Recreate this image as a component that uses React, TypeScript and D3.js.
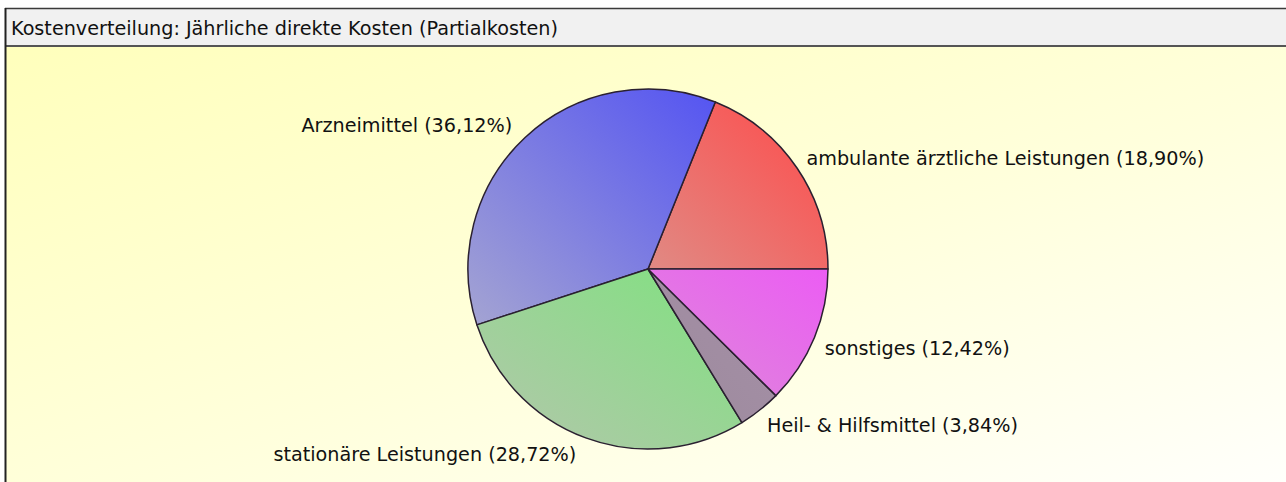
import React from "react";
import * as d3 from "d3";

// slice data, counter-clockwise from 3 o'clock
const categories = [
  "ambulante ärztliche Leistungen",
  "Arzneimittel",
  "stationäre Leistungen",
  "Heil- & Hilfsmittel",
  "sonstiges",
];
const shares = [18.9, 36.12, 28.72, 3.84, 12.42];
const strongColors = ["#ff4a4a", "#5454f2", "#7fe27f", "#a690a8", "#ec5cf4"];
const paleColors = ["#e08a84", "#a4a4d2", "#b4c6ac", "#9c8a9c", "#dc8ad8"];

const title = "Kostenverteilung: Jährliche direkte Kosten (Partialkosten)";

const W = 1286;
const H = 482;
const FONT = "'DejaVu Sans', Verdana, sans-serif";

export default function App() {
  const cx = 648;
  const cy = 269;
  const r = 180;
  const labelR = r + 10;
  const fontSize = 19.2;

  const pie = d3
    .pie<number>()
    .sort(null)
    .startAngle(Math.PI / 2)
    .endAngle(Math.PI / 2 - 2 * Math.PI);
  const arcs = pie(shares);
  const arc = d3.arc<d3.PieArcDatum<number>>().innerRadius(0).outerRadius(r);

  const fmt = (v: number) => v.toFixed(2).replace(".", ",") + "%";

  return (
    <svg
      width={W}
      height={H}
      style={{ position: "absolute", left: 0, top: 0, display: "block" }}
      fontFamily={FONT}
    >
      <defs>
        <linearGradient id="bg" x1="0" y1="0" x2="1" y2="1">
          <stop offset="0%" stopColor="#ffffbc" />
          <stop offset="55%" stopColor="#ffffdc" />
          <stop offset="100%" stopColor="#fffffb" />
        </linearGradient>
        {arcs.map((d, i) => (
          <linearGradient key={i} id={`sl${i}`} x1="1" y1="0" x2="0" y2="1">
            <stop offset="0%" stopColor={strongColors[i]} />
            <stop offset="100%" stopColor={paleColors[i]} />
          </linearGradient>
        ))}
      </defs>

      <rect x={0} y={0} width={W} height={H} fill="#ffffff" />
      {/* plot area */}
      <rect x={6} y={46} width={W - 6} height={H - 46} fill="url(#bg)" />
      {/* title bar */}
      <rect x={6} y={9} width={W - 6} height={37} fill="#f1f1f1" />
      <line x1={5} x2={W} y1={8.5} y2={8.5} stroke="#3a3a3a" strokeWidth={1.5} />
      <line x1={5} x2={W} y1={46} y2={46} stroke="#555" strokeWidth={2} />
      <line x1={5.5} x2={5.5} y1={8} y2={H} stroke="#222" strokeWidth={2} />
      <text x={11} y={35} fontSize={fontSize} fill="#111">
        {title}
      </text>

      <g transform={`translate(${cx},${cy})`}>
        {arcs.map((d, i) => (
          <path
            key={i}
            d={arc(d) || ""}
            fill={`url(#sl${i})`}
            stroke="#2a2030"
            strokeWidth={1.5}
            strokeLinejoin="round"
          />
        ))}
      </g>

      {arcs.map((d, i) => {
        const a = (d.startAngle + d.endAngle) / 2;
        const px = cx + labelR * Math.sin(a);
        const py = cy - labelR * Math.cos(a);
        const right = Math.sin(a) >= 0;
        const upper = Math.cos(a) >= 0;
        return (
          <text
            key={i}
            x={right ? px + 1 : px - 6}
            y={upper ? py + 2 : py + 14}
            fontSize={fontSize}
            fill="#111"
            textAnchor={right ? "start" : "end"}
          >
            {`${categories[i]} (${fmt(shares[i])})`}
          </text>
        );
      })}
    </svg>
  );
}
